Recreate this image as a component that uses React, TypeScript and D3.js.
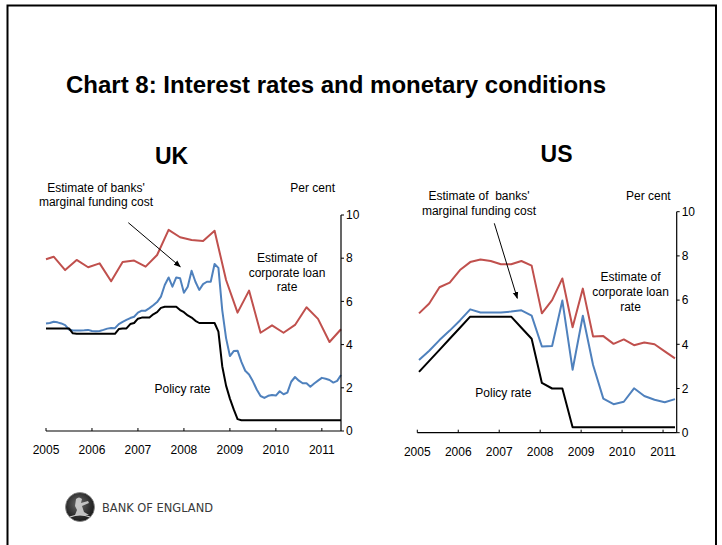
import React from 'react';
import * as d3 from 'd3';

const FONT = "'Liberation Sans', Arial, Helvetica, sans-serif";

// ---------- shared axis data ----------
const yearLabels = ['2005', '2006', '2007', '2008', '2009', '2010', '2011'];
const yTickValues = [0, 2, 4, 6, 8, 10];

// ---------- UK (monthly from Jan 2005 to Jun 2011) ----------
const ukFundingCost = [
  4.98, 5.0, 5.06, 5.03, 4.98, 4.9, 4.7, 4.65, 4.65, 4.65, 4.66, 4.68,
  4.63, 4.62, 4.63, 4.68, 4.74, 4.77, 4.76, 4.95, 5.05, 5.14, 5.23, 5.29,
  5.48, 5.57, 5.57, 5.69, 5.82, 5.97, 6.22, 6.76, 7.11, 6.68, 7.11, 7.07,
  6.4, 6.68, 7.42, 6.91, 6.53, 6.8, 6.91, 6.91, 7.73, 7.55, 5.6, 4.3,
  3.47, 3.7, 3.72, 3.2, 2.79, 2.62, 2.3, 1.92, 1.62, 1.53, 1.63, 1.67,
  1.64, 1.84, 1.7, 1.78, 2.28, 2.5, 2.33, 2.21, 2.21, 2.05, 2.2, 2.33,
  2.46, 2.42, 2.36, 2.24, 2.32, 2.59,
];
const ukPolicyRate = [
  4.75, 4.75, 4.75, 4.75, 4.75, 4.75, 4.75, 4.52, 4.5, 4.5, 4.5, 4.5,
  4.5, 4.5, 4.5, 4.5, 4.5, 4.5, 4.5, 4.72, 4.75, 4.75, 4.95, 5.0,
  5.2, 5.25, 5.25, 5.25, 5.4, 5.5, 5.7, 5.75, 5.75, 5.75, 5.75, 5.6,
  5.5, 5.35, 5.25, 5.1, 5.0, 5.0, 5.0, 5.0, 5.0, 4.6, 3.0, 2.1,
  1.5, 1.0, 0.55, 0.5, 0.5, 0.5, 0.5, 0.5, 0.5, 0.5, 0.5, 0.5,
  0.5, 0.5, 0.5, 0.5, 0.5, 0.5, 0.5, 0.5, 0.5, 0.5, 0.5, 0.5,
  0.5, 0.5, 0.5, 0.5, 0.5, 0.5,
];
const ukLoanMonths = [
  0, 2, 5, 8, 11, 14, 17, 20, 23, 26, 29, 32, 35, 38, 41, 44, 47, 50, 53,
  56, 59, 62, 65, 68, 71, 74, 77,
];
const ukLoanRate = [
  7.95, 8.07, 7.45, 7.92, 7.58, 7.76, 6.93, 7.82, 7.89, 7.61, 8.15, 9.31,
  8.97, 8.84, 8.8, 9.27, 6.99, 5.48, 6.5, 4.55, 4.89, 4.55, 4.91, 5.73,
  5.19, 4.12, 4.71,
];

// ---------- US (quarterly) ----------
const usQuarterMonths = [
  0.5, 3.5, 6.5, 9.5, 12.5, 15.5, 18.5, 21.5, 24.5, 27.5, 30.5, 33.5, 36.5,
  39.5, 42.5, 45.5, 48.5, 51.5, 54.5, 57.5, 60.5, 63.5, 66.5, 69.5, 72.5, 75.5,
];
const usLoanRate = [
  5.4, 5.85, 6.58, 6.79, 7.36, 7.72, 7.84, 7.77, 7.62, 7.62, 7.77, 7.56, 5.4,
  6.0, 6.98, 4.77, 6.52, 4.35, 4.37, 4.02, 4.22, 3.96, 4.08, 4.0, 3.68, 3.36,
];
const usFundingCost = [
  3.29, 3.71, 4.19, 4.62, 5.08, 5.58, 5.44, 5.44, 5.44, 5.48, 5.54, 5.3, 3.9,
  3.92, 5.98, 2.85, 5.29, 3.06, 1.54, 1.29, 1.4, 2.01, 1.66, 1.49, 1.38, 1.52,
];
const usPolicyRate = [
  2.75, 3.25, 3.75, 4.25, 4.75, 5.25, 5.25, 5.25, 5.25, 5.25, 4.75, 4.25, 2.25,
  2.0, 2.0, 0.25, 0.25, 0.25, 0.25, 0.25, 0.25, 0.25, 0.25, 0.25, 0.25, 0.25,
];

const RED = '#C0504D';
const BLUE = '#4F81BD';
const BLACK = '#000000';

type Series = { months: number[]; values: number[]; color: string };

type PanelProps = {
  title: string;
  titleX: number;
  titleY: number;
  xLeft: number;
  xRight: number;
  yTop: number;
  yBottom: number;
  monthMax: number;
  series: Series[];
  perCentY: number;
  fundingLines: string[];
  fundingX: number;
  fundingY: number;
  arrow: [number, number, number, number];
  loanX: number;
  loanY: number;
  loanStep: number;
  policyX: number;
  policyY: number;
};

function Panel(p: PanelProps) {
  const x = d3.scaleLinear().domain([0, p.monthMax]).range([p.xLeft, p.xRight]);
  const y = d3.scaleLinear().domain([0, 10]).range([p.yBottom, p.yTop]);
  const line = d3
    .line<[number, number]>()
    .x((d) => x(d[0]))
    .y((d) => y(d[1]));
  const loanLines = ['Estimate of', 'corporate loan', 'rate'];
  const [ax1, ay1, ax2, ay2] = p.arrow;
  const markerId = 'arrow-' + p.title;
  return (
    <g fontFamily={FONT}>
      <defs>
        <marker
          id={markerId}
          viewBox="0 0 10 10"
          refX="9"
          refY="5"
          markerWidth="7"
          markerHeight="7"
          orient="auto"
          markerUnits="userSpaceOnUse"
        >
          <path d="M0,1 L10,5 L0,9 Z" fill="#000" />
        </marker>
      </defs>
      <text
        x={p.titleX}
        y={p.titleY}
        textAnchor="middle"
        fontWeight="bold"
        fontSize={23}
        fill="#000"
      >
        {p.title}
      </text>
      {p.series.map((s, i) => (
        <path
          key={i}
          d={line(s.months.map((m, j) => [m, s.values[j]] as [number, number])) || ''}
          fill="none"
          stroke={s.color}
          strokeWidth={2}
          strokeLinejoin="round"
        />
      ))}
      {/* x axis */}
      <line x1={p.xLeft} x2={p.xRight} y1={p.yBottom} y2={p.yBottom} stroke="#000" strokeWidth={1.2} />
      {yearLabels.map((lab, i) => (
        <g key={lab}>
          <line
            x1={x(i * 12)}
            x2={x(i * 12)}
            y1={p.yBottom}
            y2={p.yBottom - 3}
            stroke="#000"
            strokeWidth={1}
          />
          <text x={x(i * 12)} y={p.yBottom + 23} textAnchor="middle" fontSize={12} fill="#000">
            {lab}
          </text>
        </g>
      ))}
      {/* y axis */}
      <line x1={p.xRight} x2={p.xRight} y1={p.yTop} y2={p.yBottom} stroke="#000" strokeWidth={1.2} />
      {yTickValues.map((v) => (
        <g key={v}>
          <line x1={p.xRight} x2={p.xRight + 3} y1={y(v)} y2={y(v)} stroke="#000" strokeWidth={1} />
          <text x={p.xRight + 5} y={y(v)} dy="0.35em" fontSize={12} fill="#000">
            {v}
          </text>
        </g>
      ))}
      <text x={p.xRight - 6} y={p.perCentY} textAnchor="end" fontSize={12} fill="#000">
        Per cent
      </text>
      {p.fundingLines.map((t, i) => (
        <text
          key={i}
          x={p.fundingX}
          y={p.fundingY + i * 14.5}
          textAnchor="middle"
          fontSize={12}
          fill="#000"
          style={{ whiteSpace: 'pre' }}
        >
          {t}
        </text>
      ))}
      <line
        x1={ax1}
        y1={ay1}
        x2={ax2}
        y2={ay2}
        stroke="#000"
        strokeWidth={1}
        markerEnd={`url(#${markerId})`}
      />
      {loanLines.map((t, i) => (
        <text
          key={t}
          x={p.loanX}
          y={p.loanY + i * p.loanStep}
          textAnchor="middle"
          fontSize={12}
          fill="#000"
        >
          {t}
        </text>
      ))}
      <text x={p.policyX} y={p.policyY} textAnchor="middle" fontSize={12} fill="#000">
        Policy rate
      </text>
    </g>
  );
}

function Logo() {
  return (
    <g>
      <defs>
        <radialGradient id="coin" cx="45%" cy="40%" r="60%">
          <stop offset="0%" stopColor="#6a6a6a" />
          <stop offset="70%" stopColor="#2e2e2e" />
          <stop offset="100%" stopColor="#1a1a1a" />
        </radialGradient>
      </defs>
      <circle cx={80} cy={507} r={14.5} fill="url(#coin)" stroke="#888" strokeWidth={0.8} />
      <path
        d="M76,499 q3,-3 6,0 l-1,4 l7,-2 l1,2 l-7,3 l2,6 l5,3 l-14,0 l2,-5 l-2,-4 z"
        fill="#d8d8d8"
        opacity={0.85}
      />
      <path d="M70,517 q10,-4 20,0" stroke="#cfcfcf" strokeWidth={1.2} fill="none" />
      <text
        x={102}
        y={511.5}
        fontFamily={"'DejaVu Sans', 'Liberation Sans', sans-serif"}
        fontSize={11.5}
        fill="#3a3a3a"
        textLength={111}
        lengthAdjust="spacingAndGlyphs"
      >
        BANK OF ENGLAND
      </text>
    </g>
  );
}

export default function App() {
  const ukSeries: Series[] = [
    { months: ukLoanMonths, values: ukLoanRate, color: RED },
    { months: ukFundingCost.map((_, i) => i), values: ukFundingCost, color: BLUE },
    { months: ukPolicyRate.map((_, i) => i), values: ukPolicyRate, color: BLACK },
  ];
  const usSeries: Series[] = [
    { months: usQuarterMonths, values: usLoanRate, color: RED },
    { months: usQuarterMonths, values: usFundingCost, color: BLUE },
    { months: usQuarterMonths, values: usPolicyRate, color: BLACK },
  ];
  return (
    <svg
      width={722}
      height={545}
      viewBox="0 0 722 545"
      style={{ position: 'absolute', left: 0, top: 0, background: '#fff' }}
    >
      <rect x={0} y={0} width={722} height={545} fill="#fff" />
      {/* frame */}
      <path d="M7.5,545 L7.5,5.5 L716,5.5 L716,545" fill="none" stroke="#000" strokeWidth={2} />
      <text x={66} y={93} fontFamily={FONT} fontWeight="bold" fontSize={24} fill="#000">
        Chart 8: Interest rates and monetary conditions
      </text>
      <Panel
        title="UK"
        titleX={171.5}
        titleY={163.5}
        xLeft={46}
        xRight={341}
        yTop={215}
        yBottom={431}
        monthMax={77}
        series={ukSeries}
        perCentY={191.5}
        fundingLines={["Estimate of banks'", 'marginal funding cost']}
        fundingX={96}
        fundingY={191.5}
        arrow={[128.3, 222.7, 180.3, 266.7]}
        loanX={287}
        loanY={262.3}
        loanStep={14.4}
        policyX={182.5}
        policyY={393.3}
      />
      <Panel
        title="US"
        titleX={556.5}
        titleY={162}
        xLeft={417.3}
        xRight={676.7}
        yTop={211.7}
        yBottom={432.7}
        monthMax={76}
        series={usSeries}
        perCentY={200}
        fundingLines={["Estimate of  banks'", 'marginal funding cost']}
        fundingX={479}
        fundingY={200}
        arrow={[494.3, 223.3, 517.3, 298.3]}
        loanX={630.5}
        loanY={281}
        loanStep={15}
        policyX={503.3}
        policyY={397}
      />
      <Logo />
    </svg>
  );
}
